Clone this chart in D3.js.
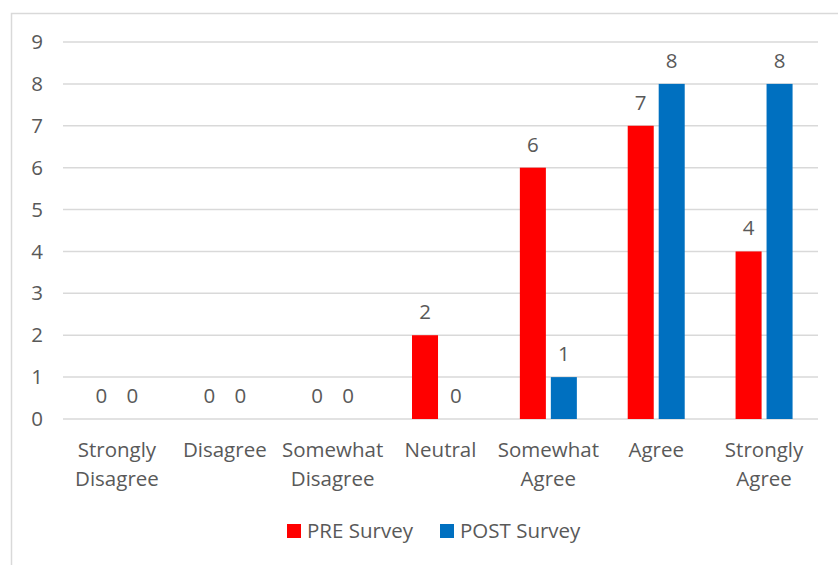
<!DOCTYPE html>
<html>
<head>
<meta charset="utf-8">
<script src="https://cdn.jsdelivr.net/npm/d3@7"></script>
<style>
  body { margin: 0; background: #fff; }
  text { font-family: "Open Sans", "Noto Sans", sans-serif; fill: #595959; }
</style>
</head>
<body>
<div id="chart"></div>
<script>
// data
var categories = ["Strongly Disagree", "Disagree", "Somewhat Disagree", "Neutral", "Somewhat Agree", "Agree", "Strongly Agree"];
var preSurvey = [0, 0, 0, 2, 6, 7, 4];
var postSurvey = [0, 0, 0, 0, 1, 8, 8];
var seriesNames = ["PRE Survey", "POST Survey"];
var seriesColors = ["#ff0000", "#0070c0"];
var yTicks = [0, 1, 2, 3, 4, 5, 6, 7, 8, 9];

var svgWidth = 838, svgHeight = 565;
var margin = {top: 42, right: 20, bottom: 146, left: 63};
var width = 818 - margin.left;
var height = 419 - margin.top;
var fontSize = "20.5px";

var svg = d3.select("#chart").append("svg")
  .attr("width", svgWidth)
  .attr("height", svgHeight);

// chart border
svg.append("rect")
  .attr("x", 11.5).attr("y", 13.5)
  .attr("width", 840).attr("height", 570)
  .attr("fill", "none")
  .attr("stroke", "#d9d9d9")
  .attr("stroke-width", 1.5);

var chartGroup = svg.append("g")
  .attr("transform", `translate(${margin.left}, ${margin.top})`);

var x0 = d3.scaleBand().domain(categories).range([0, width]);
var x1 = d3.scaleBand().domain(seriesNames).range([0, 57]).paddingInner(0.16);
var y = d3.scaleLinear().domain([0, 9]).range([height, 0]);

// gridlines
chartGroup.selectAll(".grid")
  .data(yTicks)
  .enter().append("line")
  .attr("x1", 0).attr("x2", width)
  .attr("y1", d => y(d)).attr("y2", d => y(d))
  .attr("stroke", "#d9d9d9")
  .attr("stroke-width", 1.5);

// y axis labels
var yAxis = d3.axisLeft(y).tickValues(yTicks).tickSize(0).tickPadding(20);
chartGroup.append("g").call(yAxis)
  .call(g => g.select(".domain").remove())
  .selectAll("text")
  .attr("font-size", fontSize)
  .attr("font-family", null)
  .style("fill", "#595959");

var data = categories.map((c, i) => ({cat: c, values: [
  {name: seriesNames[0], v: preSurvey[i], color: seriesColors[0]},
  {name: seriesNames[1], v: postSurvey[i], color: seriesColors[1]}
]}));

var groups = chartGroup.selectAll(".cat")
  .data(data)
  .enter().append("g")
  .attr("transform", d => `translate(${x0(d.cat) + x0.bandwidth() / 2 - 28.5}, 0)`);

groups.selectAll("rect")
  .data(d => d.values)
  .enter().append("rect")
  .attr("x", d => x1(d.name))
  .attr("y", d => y(d.v))
  .attr("width", x1.bandwidth())
  .attr("height", d => height - y(d.v))
  .attr("fill", d => d.color);

groups.selectAll(".val")
  .data(d => d.values)
  .enter().append("text")
  .attr("x", d => x1(d.name) + x1.bandwidth() / 2)
  .attr("y", d => y(d.v) - 16)
  .attr("text-anchor", "middle")
  .attr("font-size", fontSize)
  .text(d => d.v);

// category labels (wrapped)
var wrapped = {
  "Strongly Disagree": ["Strongly", "Disagree"],
  "Somewhat Disagree": ["Somewhat", "Disagree"],
  "Somewhat Agree": ["Somewhat", "Agree"],
  "Strongly Agree": ["Strongly", "Agree"]
};
chartGroup.selectAll(".catLabel")
  .data(categories)
  .enter().append("text")
  .attr("text-anchor", "middle")
  .attr("font-size", fontSize)
  .attr("transform", d => `translate(${x0(d) + x0.bandwidth() / 2}, ${height + 38})`)
  .each(function(d) {
    var lines = wrapped[d] || [d];
    d3.select(this).selectAll("tspan")
      .data(lines)
      .enter().append("tspan")
      .attr("x", 0)
      .attr("dy", (l, i) => i === 0 ? 0 : 29)
      .text(l => l);
  });

// legend
var legendItems = [{name: seriesNames[0], color: seriesColors[0], x: 287}, {name: seriesNames[1], color: seriesColors[1], x: 440}];
var legend = svg.selectAll(".legend")
  .data(legendItems)
  .enter().append("g")
  .attr("transform", d => `translate(${d.x}, 524)`);
legend.append("rect")
  .attr("width", 14).attr("height", 14)
  .attr("fill", d => d.color);
legend.append("text")
  .attr("x", 20).attr("y", 14)
  .attr("font-size", fontSize)
  .text(d => d.name);
</script>
</body>
</html>
